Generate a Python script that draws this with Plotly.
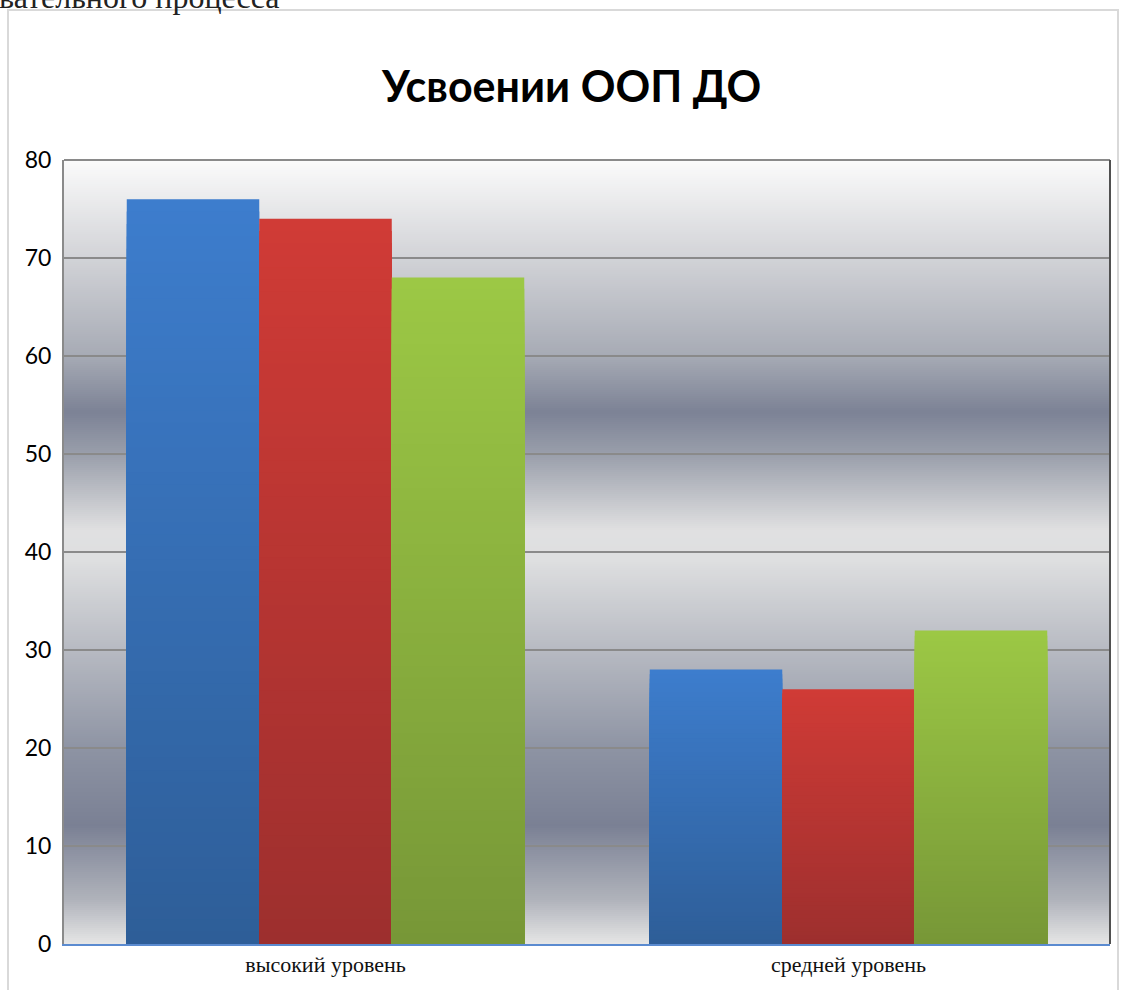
import plotly.graph_objects as go

# ---- data ----
categories = ["высокий уровень", "средней уровень"]
series_a = [76, 28]
series_b = [74, 26]
series_c = [68, 32]
y_ticks = [0, 10, 20, 30, 40, 50, 60, 70, 80]
title_text = "Усвоении ООП ДО"
top_text = "вательного процесса"

# ---- style ----
W, H = 1121, 990
ML, MR, MT, MB = 64, 11, 160, 46
PW, PH = W - ML - MR, H - MT - MB


def px_x(px):
    return (px - ML) / PW


def px_y(py):
    return (H - MB - py) / PH


def hex2rgb(h):
    h = h.lstrip("#")
    return [int(h[i:i + 2], 16) for i in (0, 2, 4)]


def mix(c1, c2, t):
    a, b = hex2rgb(c1), hex2rgb(c2)
    return "rgb(%d,%d,%d)" % tuple(round(a[i] + (b[i] - a[i]) * t) for i in range(3))


bg_stops = [
    (160, "#fbfbfb"), (255, "#d3d4d8"), (355, "#a7abb5"), (412, "#7c8295"),
    (455, "#9a9fab"), (530, "#e0e0e1"), (560, "#dedfe0"), (650, "#b7bac2"),
    (750, "#8d93a3"), (825, "#7a8094"), (900, "#b0b3bb"), (944, "#e6e6e6"),
]


def bg_color(py):
    for (y0, c0), (y1, c1) in zip(bg_stops[:-1], bg_stops[1:]):
        if y0 <= py <= y1:
            return mix(c0, c1, (py - y0) / (y1 - y0))
    return bg_stops[-1][1]


shapes = []
step = 2
for py in range(MT, H - MB, step):
    shapes.append(dict(type="rect", xref="paper", yref="paper", layer="below",
                       x0=0, x1=1, y0=px_y(py + step + 0.5), y1=px_y(py),
                       fillcolor=bg_color(py + step / 2), line=dict(width=0)))

# outer frame
shapes.append(dict(type="rect", xref="paper", yref="paper", layer="above",
                   x0=px_x(8), x1=px_x(1118), y0=px_y(1005), y1=px_y(10),
                   fillcolor="rgba(0,0,0,0)", line=dict(color="#d9d9d9", width=2)))
# top border of plot
shapes.append(dict(type="line", xref="paper", yref="paper", layer="above",
                   x0=0, x1=1, y0=1, y1=1, line=dict(color="#8a8a8a", width=2)))
# right border of plot (darker)
shapes.append(dict(type="line", xref="paper", yref="paper", layer="above",
                   x0=1, x1=1, y0=0, y1=1, line=dict(color="#505050", width=2)))

series = [
    (series_a, "#3d7dcd", "#2e5e98"),
    (series_b, "#d03b36", "#9d2f2e"),
    (series_c, "#9cc845", "#779737"),
]

N = 60
fig = go.Figure()
for gi, (vals, top_c, bot_c) in enumerate(series):
    for k in range(N):
        frac = (N - k) / N
        fig.add_trace(go.Bar(
            x=categories, y=[v * frac for v in vals], offsetgroup=str(gi),
            marker=dict(color=mix(bot_c, top_c, (N - k - 0.5) / N), line=dict(width=0)),
            showlegend=False, hoverinfo="skip"))

fig.update_layout(
    width=W, height=H,
    margin=dict(l=ML, r=MR, t=MT, b=MB),
    paper_bgcolor="white", plot_bgcolor="#e0e0e0",
    barmode="group", bargap=0.24, bargroupgap=0,
    showlegend=False,
    shapes=shapes,
    annotations=[
        dict(text="<b>%s</b>" % title_text, xref="paper", yref="paper",
             x=px_x(571), y=px_y(85), xanchor="center", yanchor="middle",
             showarrow=False, font=dict(family="Lato", size=43, color="black")),
        dict(text=top_text, xref="paper", yref="paper",
             x=px_x(-3), y=px_y(17), xanchor="left", yanchor="bottom",
             showarrow=False, font=dict(family="Liberation Serif", size=32, color="#222")),
    ],
)
fig.update_yaxes(range=[0, 80], tickvals=y_ticks, showgrid=True,
                 gridcolor="#8a8a8a", gridwidth=2, zeroline=False,
                 showline=True, linecolor="#8a8a8a", linewidth=2,
                 tickfont=dict(family="Lato", size=23, color="black"),
                 ticks="", ticklabelstandoff=6)
fig.update_xaxes(showline=True, linecolor="#5b8bd0", linewidth=2,
                 tickfont=dict(family="Liberation Serif", size=22, color="#111"),
                 ticks="", showgrid=False)

fig.write_html("out.html", config={"displayModeBar": False},
               post_script="document.body.style.margin='0';")
